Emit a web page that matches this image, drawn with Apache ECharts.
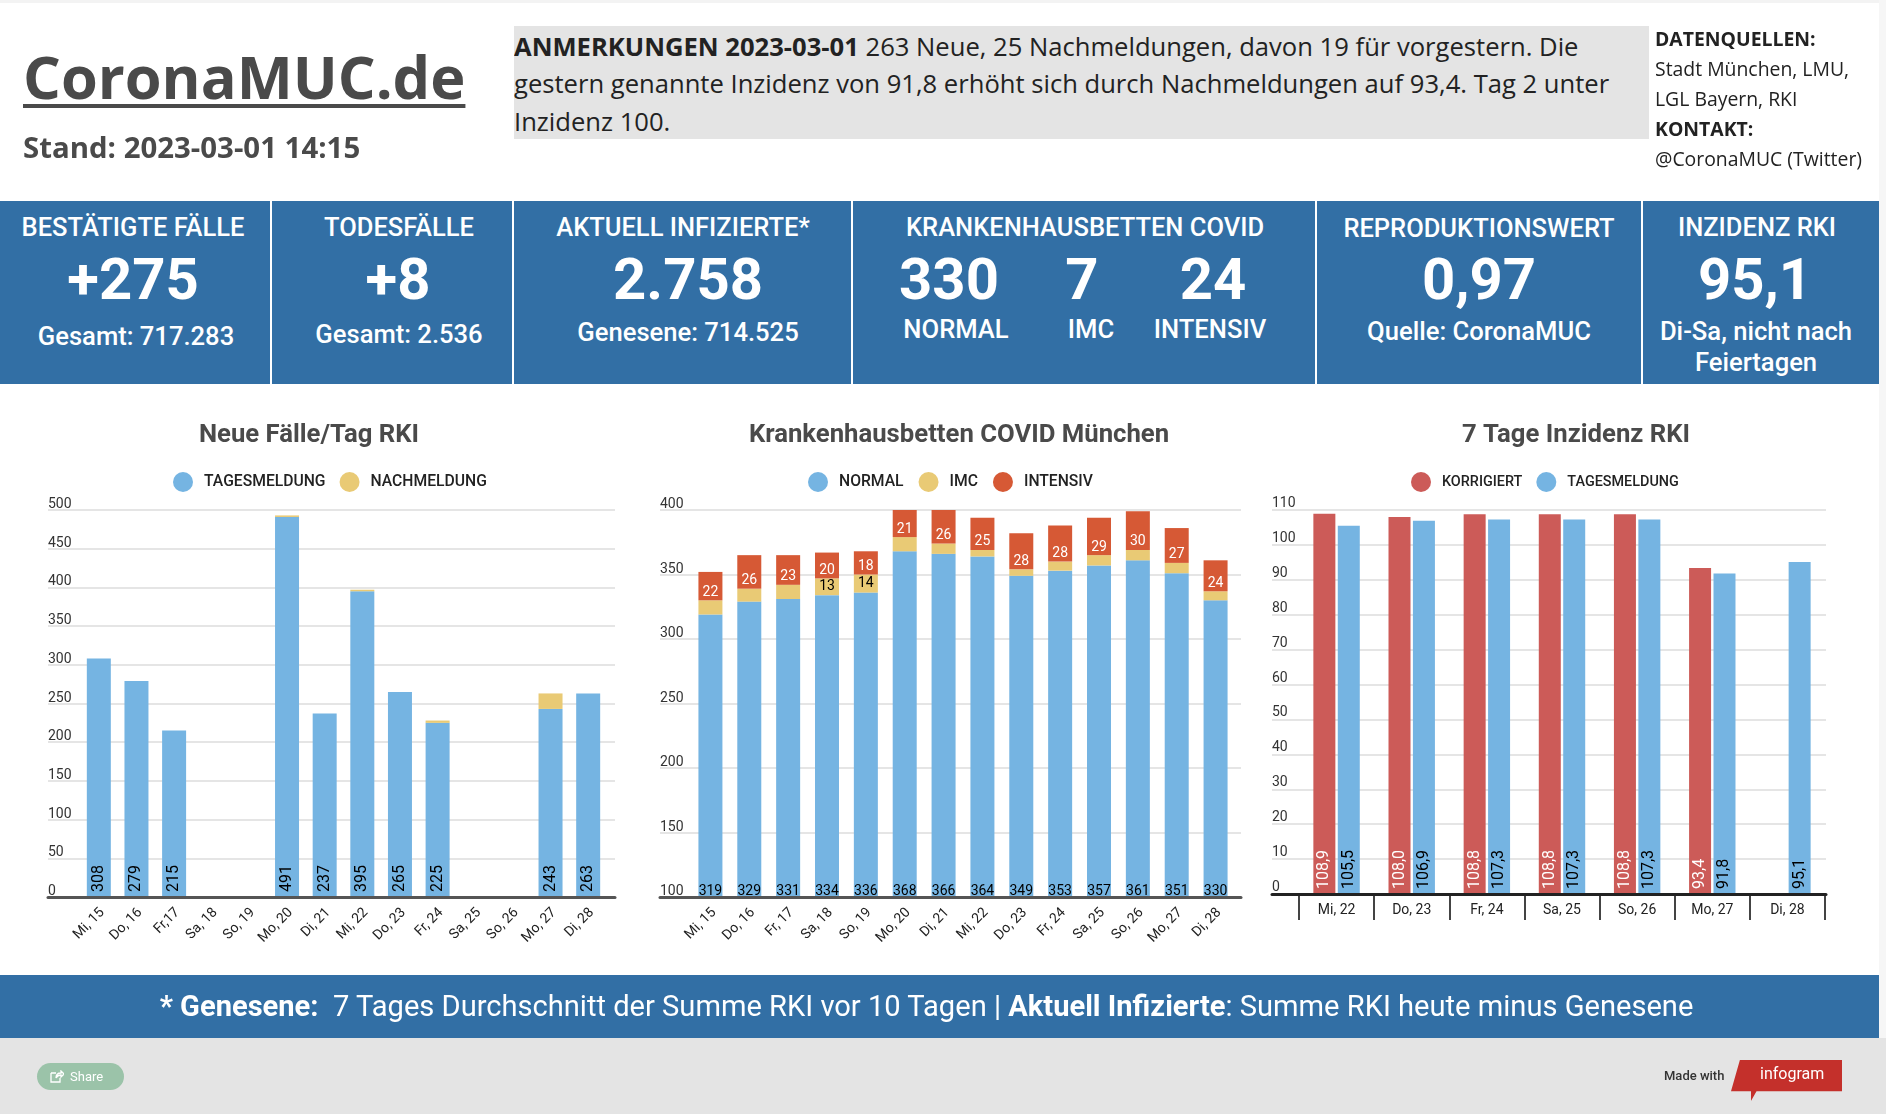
<!DOCTYPE html>
<html lang="de">
<head>
<meta charset="utf-8">
<title>CoronaMUC.de</title>
<script src="https://cdn.jsdelivr.net/npm/echarts@6/dist/echarts.min.js"></script>
<style>
html, body { margin: 0; padding: 0; background: #fff; }
#page { position: relative; width: 1886px; height: 1114px; overflow: hidden; background: #fff; font-family: Roboto, sans-serif; }
#page div, #page a { position: absolute; }
#chart { left: 0; top: 0; width: 1886px; height: 1114px; }
#topline { left: 0; top: 0; width: 1886px; height: 3px; background: #f3f3f3; }
#rightline { left: 1879px; top: 0; width: 7px; height: 1038px; background: #f6f6f6; }
#logo { left: 23px; top: 35px; font: 700 59.5px "Open Sans", sans-serif; color: #4a4a4a; text-decoration: underline; text-decoration-thickness: 4px; text-underline-offset: 5px; white-space: nowrap; }
#stand { left: 23px; top: 127px; font: 700 29.4px "Open Sans", sans-serif; color: #4a4a4a; white-space: nowrap; }
#note { left: 514px; top: 26px; width: 1135px; height: 111px; padding-top: 2px; background: #e4e4e4; font: 400 25.6px/37.3px "Open Sans", sans-serif; color: #222; white-space: nowrap; }
#sources { left: 1655px; top: 24px; width: 224px; font: 400 19.4px/30px "Open Sans", sans-serif; color: #222; white-space: nowrap; }
#band { left: 0; top: 201px; width: 1879px; height: 183px; background: #326fa5; }
.sep { top: 201px; width: 2px; height: 183px; background: #fff; }
.txt { transform: translate(-50%, -50%); color: #fff; white-space: nowrap; }
.head { font-size: 25.5px; font-weight: 500; }
.big { font-size: 58px; font-weight: 700; }
.sub { font-size: 25.6px; font-weight: 500; }
#footband { left: 0; top: 975px; width: 1879px; height: 63px; background: #326fa5; }
#footer { left: 0; top: 1038px; width: 1886px; height: 76px; background: #e4e4e4; }
#foottext { left: 0; top: 975px; width: 1853px; text-align: center; line-height: 63px; font-size: 29.1px; color: #fff; white-space: pre; }
#share { left: 37px; top: 1063px; width: 87px; height: 27px; border-radius: 14px; background: #9bc3a9; color: #fff; font-size: 13px; line-height: 27px; }
#sharetext { left: 33px; top: 0; }
#made { left: 1664px; top: 1068px; font-size: 13px; font-weight: 500; color: #333; white-space: nowrap; }
#flag { left: 1731px; top: 1060px; width: 111px; height: 41px; background: #c4302b; clip-path: polygon(8% 0, 100% 0, 100% 76%, 23% 76%, 18% 100%, 18% 76%, 0 76%); }
#flagtext { left: 1760px; top: 1064px; font-size: 16px; color: #fff; white-space: nowrap; }
</style>
</head>
<body>
<div id="page">
  <div id="chart"></div>
  <div id="topline"></div>
  <div id="rightline"></div>
  <div id="logo">CoronaMUC.de</div>
  <div id="stand">Stand: 2023-03-01 14:15</div>
  <div id="note"><b>ANMERKUNGEN 2023-03-01</b> 263 Neue, 25 Nachmeldungen, davon 19 für vorgestern. Die<br>gestern genannte Inzidenz von 91,8 erhöht sich durch Nachmeldungen auf 93,4. Tag 2 unter<br>Inzidenz 100.</div>
  <div id="sources"><b>DATENQUELLEN:</b><br>Stadt München, LMU,<br>LGL Bayern, RKI<br><b>KONTAKT:</b><br>@CoronaMUC (Twitter)</div>
  <div id="band"></div>
  <div class="sep" style="left:270px"></div>
  <div class="sep" style="left:512px"></div>
  <div class="sep" style="left:851px"></div>
  <div class="sep" style="left:1315px"></div>
  <div class="sep" style="left:1641px"></div>

  <div class="txt head" style="left:133px;top:227px">BESTÄTIGTE FÄLLE</div>
  <div class="txt big" style="left:133px;top:279px">+275</div>
  <div class="txt sub" style="left:136px;top:336px">Gesamt: 717.283</div>

  <div class="txt head" style="left:399px;top:227px">TODESFÄLLE</div>
  <div class="txt big" style="left:398px;top:279px">+8</div>
  <div class="txt sub" style="left:399px;top:334px">Gesamt: 2.536</div>

  <div class="txt head" style="left:683px;top:227px">AKTUELL INFIZIERTE*</div>
  <div class="txt big" style="left:688px;top:279px">2.758</div>
  <div class="txt sub" style="left:688px;top:332px">Genesene: 714.525</div>

  <div class="txt head" style="left:1085px;top:227px">KRANKENHAUSBETTEN COVID</div>
  <div class="txt big" style="left:949px;top:279px">330</div>
  <div class="txt big" style="left:1082px;top:279px">7</div>
  <div class="txt big" style="left:1213px;top:279px">24</div>
  <div class="txt sub" style="left:956px;top:329px">NORMAL</div>
  <div class="txt sub" style="left:1091px;top:329px">IMC</div>
  <div class="txt sub" style="left:1210px;top:329px">INTENSIV</div>

  <div class="txt head" style="left:1479px;top:228px">REPRODUKTIONSWERT</div>
  <div class="txt big" style="left:1479px;top:279px">0,97</div>
  <div class="txt sub" style="left:1479px;top:331px">Quelle: CoronaMUC</div>

  <div class="txt head" style="left:1757px;top:227px">INZIDENZ RKI</div>
  <div class="txt big" style="left:1755px;top:279px">95,1</div>
  <div class="txt sub" style="left:1756px;top:331px">Di-Sa, nicht nach</div>
  <div class="txt sub" style="left:1756px;top:362px">Feiertagen</div>

  <div id="footband"></div>
  <div id="footer"></div>
  <div id="foottext"><b>* Genesene:</b>  7 Tages Durchschnitt der Summe RKI vor 10 Tagen | <b>Aktuell Infizierte</b>: Summe RKI heute minus Genesene</div>
  <div id="share">
    <svg style="position:absolute;left:13px;top:7px" width="14" height="13" viewBox="0 0 14 13"><path d="M1 3h5M1 3v9h9V8M6 8c0-3 2-5 5-5V1l3 3-3 3V5c-2 0-4 1-5 3z" fill="none" stroke="#fff" stroke-width="1.3"/></svg>
    <div id="sharetext">Share</div>
  </div>
  <div id="made">Made with</div>
  <div id="flag"></div>
  <div id="flagtext">infogram</div>
</div>
<script>
// Neue Fälle/Tag RKI
const casesDays = ["Mi, 15", "Do, 16", "Fr,17", "Sa, 18", "So, 19", "Mo, 20", "Di, 21", "Mi, 22", "Do, 23", "Fr, 24", "Sa, 25", "So, 26", "Mo, 27", "Di, 28"];
const casesDaily = [308, 279, 215, null, null, 491, 237, 395, 265, 225, null, null, 243, 263];
const casesLate = [null, null, null, null, null, 2, null, 2, null, 3, null, null, 20, null];

// Krankenhausbetten COVID München
const bedsDays = ["Mi, 15", "Do, 16", "Fr, 17", "Sa, 18", "So, 19", "Mo, 20", "Di, 21", "Mi, 22", "Do, 23", "Fr, 24", "Sa, 25", "So, 26", "Mo, 27", "Di, 28"];
const bedsNormal = [319, 329, 331, 334, 336, 368, 366, 364, 349, 353, 357, 361, 351, 330];
const bedsImc = [11, 10, 11, 13, 14, 11, 8, 5, 5, 7, 8, 8, 8, 7];
const bedsIcu = [22, 26, 23, 20, 18, 21, 26, 25, 28, 28, 29, 30, 27, 24];

// 7 Tage Inzidenz RKI
const incDays = ["Mi, 22", "Do, 23", "Fr, 24", "Sa, 25", "So, 26", "Mo, 27", "Di, 28"];
const incCorrected = [108.9, 108.0, 108.8, 108.8, 108.8, 93.4, null];
const incDaily = [105.5, 106.9, 107.3, 107.3, 107.3, 91.8, 95.1];

const BLUE = "#75b4e2", YELLOW = "#e9ca75", ORANGE = "#d65935", RED = "#cc5b58";
const TOP = 510, W = 1886, H = 1114;

function comma(p) {
    return p.value.toFixed(1).replace(".", ",");
}

// gridlines + y labels live in a wider grid behind the bars
function backAxes(i, left, right, bottom, min, max, interval, lineColor, labelHeight) {
    return {
        grid: { left: left, width: right - left, top: TOP, height: bottom - TOP },
        xAxis: {
            gridIndex: i, type: "value", min: 0, max: 1, z: 5,
            axisLine: { show: true, onZero: false, lineStyle: { color: lineColor, width: 3 } },
            axisTick: { show: false }, axisLabel: { show: false }, splitLine: { show: false },
        },
        yAxis: {
            gridIndex: i, type: "value", min: min, max: max, interval: interval,
            axisLine: { show: false }, axisTick: { show: false },
            axisLabel: { inside: true, margin: 0, verticalAlign: "bottom", lineHeight: labelHeight, fontFamily: "Roboto", fontSize: 14, color: "#333" },
            splitLine: { lineStyle: { color: "#dddddd", width: 1.5 } },
        },
    };
}

function barAxes(i, left, right, bottom, min, max, days, catAxis) {
    return {
        grid: { left: left, width: right - left, top: TOP, height: bottom - TOP },
        xAxis: Object.assign({
            gridIndex: i, type: "category", data: days,
            axisLine: { show: false }, axisTick: { show: false },
        }, catAxis),
        yAxis: { gridIndex: i, type: "value", min: min, max: max, show: false },
    };
}

const slanted = { axisLabel: { interval: 0, rotate: 45, margin: 17, padding: [0, -5, 0, 0], fontFamily: "Roboto", fontSize: 14, color: "#222" } };
const ticked = {
    axisTick: { show: true, length: 26, lineStyle: { color: "#444", width: 2 } },
    axisLabel: { interval: 0, margin: 9, fontFamily: "Roboto", fontSize: 14, color: "#222" },
};

const parts = [
    backAxes(0, 48, 615, 897, 0, 500, 50, "#555", 11),
    barAxes(1, 80, 607, 897, 0, 500, casesDays, slanted),
    backAxes(2, 660, 1241, 897, 100, 400, 50, "#555", 11),
    barAxes(3, 691, 1235, 897, 100, 400, bedsDays, slanted),
    backAxes(4, 1272, 1826, 894, 0, 110, 10, "#222", 13),
    barAxes(5, 1299, 1825, 894, 0, 110, incDays, ticked),
];

function upright(color, distance) {
    return { show: true, position: "insideBottom", distance: distance, fontFamily: "Roboto", fontSize: 14, color: color };
}
function sideways(color, formatter) {
    return { show: true, position: "insideBottom", distance: 5, rotate: 90, align: "left", verticalAlign: "middle", fontFamily: "Roboto", fontSize: 16, color: color, formatter: formatter };
}

const legendBase = { icon: "circle", itemWidth: 20, itemHeight: 20, top: 467, selectedMode: false };
const titleBase = { top: 418, textAlign: "center", textStyle: { fontFamily: "Roboto", fontSize: 25.7, fontWeight: 700, color: "#4a4a4a" } };

const option = {
    animation: false,
    backgroundColor: "transparent",
    title: [
        Object.assign({ text: "Neue Fälle/Tag RKI", left: 304 }, titleBase),
        Object.assign({ text: "Krankenhausbetten COVID München", left: 954 }, titleBase),
        Object.assign({ text: "7 Tage Inzidenz RKI", left: 1571 }, titleBase),
    ],
    legend: [
        Object.assign({ left: 168, itemGap: 14, data: ["TAGESMELDUNG", "NACHMELDUNG"], textStyle: { fontFamily: "Roboto", fontSize: 15.7, fontWeight: 500, color: "#222", padding: [0, 0, 0, 6] } }, legendBase),
        Object.assign({ left: 803, itemGap: 15, data: ["NORMAL", "IMC", "INTENSIV"], textStyle: { fontFamily: "Roboto", fontSize: 15.7, fontWeight: 500, color: "#222", padding: [0, 0, 0, 6] } }, legendBase),
        Object.assign({ left: 1406, itemGap: 14, data: ["KORRIGIERT", "TAGESMELDUNG"], textStyle: { fontFamily: "Roboto", fontSize: 14.4, fontWeight: 500, color: "#222", padding: [0, 0, 0, 6] } }, legendBase),
    ],
    grid: parts.map(p => p.grid),
    xAxis: parts.map(p => p.xAxis),
    yAxis: parts.map(p => p.yAxis),
    series: [
        { name: "TAGESMELDUNG", type: "bar", stack: "cases", xAxisIndex: 1, yAxisIndex: 1, barWidth: 24, data: casesDaily, itemStyle: { color: BLUE }, label: sideways("#000") },
        { name: "NACHMELDUNG", type: "bar", stack: "cases", xAxisIndex: 1, yAxisIndex: 1, barWidth: 24, data: casesLate, itemStyle: { color: YELLOW } },

        { name: "NORMAL", type: "bar", stack: "beds", xAxisIndex: 3, yAxisIndex: 3, barWidth: 24, data: bedsNormal, itemStyle: { color: BLUE }, label: upright("#000", -1) },
        { name: "IMC", type: "bar", stack: "beds", xAxisIndex: 3, yAxisIndex: 3, barWidth: 24, data: bedsImc, itemStyle: { color: YELLOW },
            // only the two segments tall enough carry a label
            label: { show: true, position: "inside", fontFamily: "Roboto", fontSize: 14, color: "#000", formatter: p => (p.value >= 13 ? p.value : "") } },
        { name: "INTENSIV", type: "bar", stack: "beds", xAxisIndex: 3, yAxisIndex: 3, barWidth: 24, data: bedsIcu, itemStyle: { color: ORANGE }, label: upright("#fff", 1) },

        { name: "KORRIGIERT", type: "bar", xAxisIndex: 5, yAxisIndex: 5, barWidth: 22, barGap: "11%", data: incCorrected, itemStyle: { color: RED }, label: sideways("#fff", comma) },
        { name: "TAGESMELDUNG", type: "bar", xAxisIndex: 5, yAxisIndex: 5, barWidth: 22, barGap: "11%", data: incDaily, itemStyle: { color: BLUE }, label: sideways("#000", comma) },
    ],
};

const chart = echarts.init(document.getElementById("chart"), null, { width: W, height: H });
chart.setOption(option);
</script>
</body>
</html>
